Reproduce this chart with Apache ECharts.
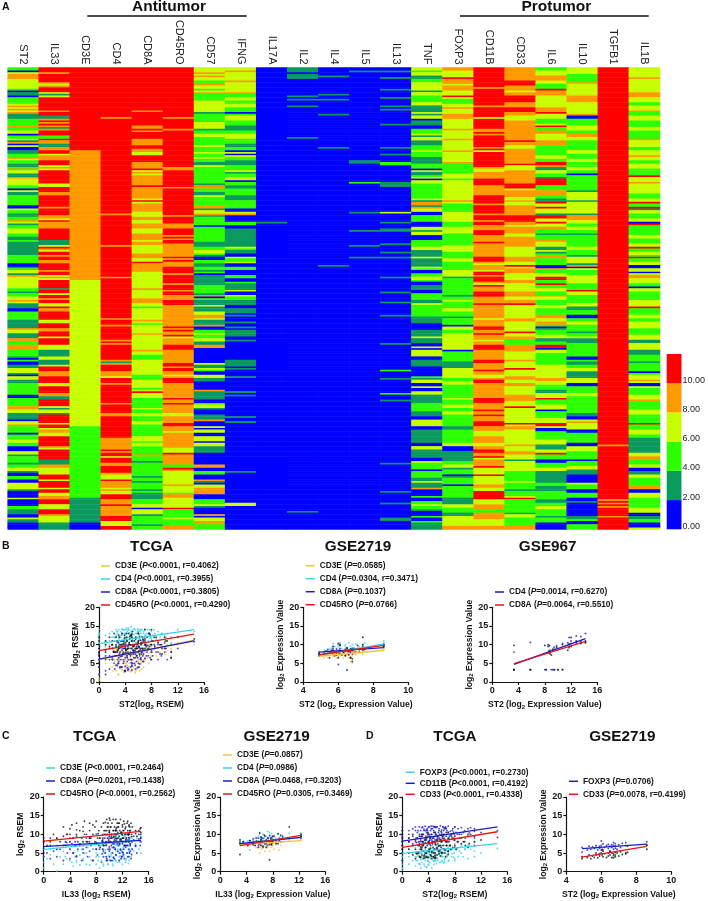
<!DOCTYPE html>
<html><head><meta charset="utf-8">
<style>html,body{margin:0;padding:0;background:#fff}#c{width:708px;height:901px}</style>
<script src="https://cdn.jsdelivr.net/npm/echarts@6/dist/echarts.min.js"></script>
</head><body><div id="c"></div>
<script>
// Heatmap: each column is [startRow, bin, startRow, bin, ...]; bins 0..5 = 0-2, 2-4, ... 10-12
const ROWS = 278;
const ST2=[0,2,2,0,3,3,4,4,7,3,13,2,14,0,15,1,17,0,18,2,22,3,23,4,24,3,25,4,26,3,27,4,28,1,31,2,35,4,36,2,38,3,40,0,41,2,43,3,44,1,45,4,46,0,47,3,48,0,50,1,52,2,54,4,55,3,56,2,58,1,60,4,61,2,62,3,64,1,66,4,67,3,69,3,71,2,73,0,74,3,75,1,77,2,79,2,83,0,85,3,86,2,88,1,90,2,92,4,93,3,94,1,95,2,97,3,100,2,102,1,104,2,105,1,107,1,113,2,118,0,120,1,121,2,122,3,124,1,125,4,126,3,127,3,133,2,135,1,136,2,138,3,140,4,141,3,142,1,145,0,147,2,152,1,157,4,158,3,160,1,163,4,165,2,167,4,170,2,174,1,175,0,176,2,177,0,179,1,181,3,184,1,185,0,186,3,188,1,190,2,197,0,199,2,204,4,206,3,208,1,212,0,213,3,215,4,216,2,220,0,221,2,224,3,226,2,228,0,231,3,233,1,234,2,238,1,239,2,241,3,243,1,244,0,246,2,248,0,250,3,254,1,255,0,259,3,260,0,264,2,266,1,269,0,271,3,272,1,274,0];
const IL33=[0,5,3,4,4,5,9,4,10,3,11,4,12,5,15,3,16,1,17,3,18,5,26,4,27,5,29,1,31,4,32,5,33,4,34,5,35,4,36,1,37,4,38,5,41,2,43,5,44,4,46,1,48,4,50,5,52,3,53,4,56,5,59,3,60,4,61,3,62,5,70,3,72,5,75,4,77,5,84,4,85,5,88,5,89,4,91,3,92,5,93,4,95,4,97,5,104,1,107,3,108,5,109,4,110,3,111,5,113,4,114,5,116,4,118,5,122,4,123,5,125,3,126,4,127,3,128,5,133,1,134,5,136,3,137,5,139,4,140,5,142,3,144,5,145,4,147,5,148,5,152,3,154,5,157,4,159,5,162,3,163,5,167,3,170,1,174,3,175,3,176,1,179,3,180,5,183,4,186,5,190,3,192,5,196,4,198,1,200,5,204,3,205,1,206,3,207,3,208,1,209,5,214,3,215,5,217,3,218,4,220,3,222,5,228,4,229,3,230,5,236,1,238,1,239,4,241,3,243,3,245,5,248,3,249,5,253,3,254,5,256,3,258,4,260,5,263,3,266,5,269,4,270,3,274,1];
const CD3E=[0,5,50,4,128,3,216,2,259,1,274,0];
const CD4=[0,5,30,4,31,5,88,4,89,5,107,4,108,5,126,4,127,5,151,4,152,5,155,4,156,5,164,4,165,5,166,4,167,5,176,4,177,1,178,4,179,5,183,4,186,3,187,5,190,4,191,5,192,5,196,5,202,4,203,5,208,4,210,5,223,4,230,5,231,4,232,5,234,3,235,5,238,4,240,5,244,4,245,3,248,5,249,4,253,3,254,4,255,3,257,5,260,4,263,5,264,4,265,4,270,5,273,3,276,5];
const CD8A=[0,5,26,4,27,5,35,4,37,5,38,4,39,5,43,4,47,5,49,4,51,3,53,5,57,4,61,5,62,3,63,4,64,3,65,4,71,5,72,4,79,3,80,5,81,3,82,4,87,3,90,4,92,3,94,4,97,3,100,4,104,3,105,4,107,3,112,4,115,3,117,5,118,4,123,3,133,4,134,3,139,4,142,3,144,2,145,3,152,4,153,3,154,2,155,3,160,4,161,3,170,4,171,3,173,2,176,3,185,2,188,3,193,2,194,3,195,5,196,3,199,2,205,3,206,2,208,3,210,2,213,3,215,2,222,3,225,2,226,3,228,2,233,4,234,2,237,1,238,2,246,1,247,2,249,1,250,2,254,1,255,2,256,1,260,2,263,3,265,0,266,3,269,1,270,2,275,1,276,2];
const CD45RO=[0,5,30,4,31,5,37,4,38,5,60,4,62,5,72,4,73,5,88,5,89,4,90,5,94,4,97,5,101,4,102,5,103,4,104,5,106,4,114,5,115,4,116,5,117,4,120,5,124,4,125,5,130,4,131,5,134,4,135,5,137,4,140,5,143,4,156,5,157,4,158,5,159,4,161,5,162,3,163,4,167,5,170,4,178,5,180,4,181,5,183,4,185,3,186,4,187,5,190,4,199,5,200,4,202,5,203,4,208,3,210,4,214,5,216,4,219,3,220,4,229,3,232,5,233,4,239,2,241,5,242,4,243,3,251,4,252,3,256,2,257,4,259,3,265,5,266,2,271,3,272,2,276,4];
const CD57=[0,3,3,4,4,3,5,4,6,3,8,2,10,4,11,3,13,2,14,3,15,4,16,2,20,3,27,1,28,2,33,3,37,1,38,2,40,3,42,2,47,3,48,2,51,3,52,2,54,3,55,2,57,1,59,3,60,2,63,2,70,1,71,4,73,2,75,1,77,3,78,2,83,4,85,1,86,3,87,3,88,4,89,1,90,2,95,0,96,2,97,2,105,1,108,2,110,3,112,2,113,1,114,0,116,2,118,1,120,2,122,1,123,2,124,0,125,1,128,1,131,2,136,1,137,4,138,0,139,2,140,1,143,3,144,1,147,3,149,4,151,3,152,1,155,4,156,0,158,2,160,3,161,2,163,3,165,1,167,4,169,0,175,0,178,3,179,1,181,3,182,2,183,0,185,3,187,1,189,0,194,4,195,1,196,1,200,0,202,2,203,3,205,1,206,0,209,1,212,4,213,0,216,3,217,0,218,3,220,0,222,3,223,3,225,0,226,3,228,1,232,0,239,4,241,0,243,2,245,0,248,4,249,1,250,0,251,3,253,4,257,0,260,2,263,3,264,1,265,0,269,4,270,0,271,3,273,4,274,4,275,2];
const IFNG=[0,3,2,4,3,3,8,4,9,3,15,4,16,2,18,3,20,2,22,3,24,2,27,0,28,2,29,3,32,2,35,1,38,2,40,3,43,2,46,1,48,2,50,0,51,3,52,0,53,3,54,2,56,1,59,2,62,3,63,1,64,2,66,3,68,0,69,2,71,1,73,2,77,1,80,2,85,0,87,3,88,4,89,0,93,2,95,0,97,1,102,1,108,3,109,2,110,1,112,0,114,3,115,2,117,3,118,0,120,2,122,0,125,2,127,0,129,2,130,1,134,3,135,0,137,3,138,2,140,1,143,0,145,1,148,0,149,1,150,0,153,1,154,0,156,1,157,0,158,1,162,0,164,1,165,0,176,1,180,0,181,1,182,0,186,1,187,0,195,1,196,0,197,1,198,0,210,1,211,0,213,1,214,0,243,1,244,0,262,3,264,0];
const IL17A=[0,0,93,1,94,0];
const IL2=[0,1,3,0,4,1,7,0,17,1,18,0,19,1,20,0,23,1,24,0,42,1,43,0,267,1,268,0];
const IL4=[0,0,5,1,6,0,16,1,17,0,19,1,20,0,28,1,29,0,48,1,49,0,119,1,120,0];
const IL5=[0,0,2,1,3,0,56,1,58,0,69,2,70,0,87,1,88,0,98,1,99,0,107,1,108,0,114,1,115,0];
const IL13=[0,0,2,1,3,0,6,1,7,0,13,1,14,0,18,1,19,0,23,1,24,0,25,1,26,0,34,1,35,0,48,1,49,0,52,1,53,0,57,2,59,0,69,1,72,0,87,3,88,0,93,1,94,0,97,1,99,0,106,1,107,0,111,1,112,0,114,1,115,0,126,1,127,0,135,1,136,0,141,1,142,0,149,1,150,0,166,1,167,0,182,2,183,0,187,1,188,0,196,2,197,0,200,1,201,0,238,1,239,0,255,1,256,0,262,1,263,0,271,1,273,0];
const TNF=[0,3,2,2,3,3,5,1,7,2,9,3,14,1,15,3,17,2,21,3,23,1,27,3,28,1,29,3,30,3,31,0,32,1,35,0,37,2,40,3,41,1,42,3,44,1,47,2,50,3,51,2,54,1,58,2,61,0,62,3,63,1,65,2,66,3,67,0,68,3,70,2,79,3,80,1,81,4,83,1,84,4,85,3,87,0,89,2,93,0,96,3,98,1,99,3,101,0,104,2,108,3,110,1,114,3,115,1,120,3,121,2,122,0,124,2,126,3,128,2,129,0,131,1,134,0,136,2,140,1,142,3,143,2,145,2,150,1,154,0,158,1,162,3,163,1,166,0,168,3,169,0,170,3,172,3,174,0,176,1,180,0,186,2,187,1,188,3,190,0,192,3,193,0,195,3,197,1,202,2,207,1,210,0,212,3,216,0,218,1,226,0,228,3,230,1,235,0,237,3,238,2,242,0,243,2,245,2,247,1,249,3,250,1,253,4,254,0,258,2,259,0,261,2,263,3,264,2,266,1,267,0,270,2,271,0,273,2,274,1];
const FOXP3=[0,4,2,3,6,5,7,4,10,3,11,4,14,3,17,5,18,3,19,2,22,3,24,4,25,3,28,4,31,3,37,4,38,3,43,4,44,3,50,4,51,3,57,4,58,2,61,2,64,3,67,2,68,3,80,4,81,3,82,2,85,2,87,3,93,2,96,3,100,2,103,2,107,3,111,2,115,3,117,2,122,3,126,1,127,2,137,1,138,2,140,3,141,2,145,3,147,2,150,1,151,2,155,0,156,3,158,2,160,3,170,0,171,2,177,1,178,1,181,3,184,3,187,2,189,3,191,2,194,2,199,3,200,2,203,3,205,2,207,3,209,2,216,1,218,2,226,3,228,0,231,1,237,2,239,3,241,1,242,2,245,0,246,1,247,2,251,0,252,2,259,1,263,3,265,2,268,1,270,3,276,4];
const CD11B=[0,5,12,4,13,5,23,4,24,5,30,3,31,5,37,4,39,5,40,4,41,5,48,4,49,5,50,3,51,5,60,4,61,3,63,4,67,5,71,4,77,5,78,5,82,4,83,5,88,4,89,5,92,4,93,5,95,4,98,5,101,4,105,5,106,4,114,5,117,4,118,3,119,4,122,3,123,5,125,4,126,5,129,4,130,3,131,5,132,4,135,5,138,4,142,5,143,4,145,4,151,3,152,4,156,5,158,4,160,5,161,4,164,3,165,4,167,5,170,4,176,5,178,4,182,5,183,4,185,3,187,4,188,5,190,4,199,5,202,4,206,5,207,4,209,5,210,4,213,5,216,4,219,3,222,4,226,3,228,4,230,5,232,4,234,5,235,3,236,4,238,4,240,5,241,3,245,5,246,3,251,4,253,3,255,5,258,5,260,3,263,4,266,2,268,4,272,3,276,4];
const CD33=[0,4,8,5,11,4,14,3,15,4,17,5,21,4,24,5,27,4,29,3,32,4,44,5,45,4,47,3,49,4,58,5,59,3,61,3,62,4,70,5,73,3,74,4,78,3,80,4,81,3,83,4,89,5,93,4,95,3,96,4,100,3,102,4,108,3,114,4,117,3,119,5,120,3,121,4,124,3,128,4,130,3,135,4,138,3,140,4,142,5,143,3,147,3,151,4,153,3,159,5,160,3,162,4,164,2,167,4,171,3,176,4,177,3,181,5,182,3,186,4,188,3,190,4,192,3,197,4,200,4,201,3,204,5,205,3,214,5,215,3,216,4,218,3,227,4,228,3,231,4,233,3,236,1,237,3,243,2,249,3,250,2,254,1,255,2,258,3,259,5,260,2,266,2,268,1,269,3,271,2,276,4];
const IL6=[0,2,2,3,5,4,8,3,10,2,13,5,14,4,17,3,21,3,24,4,27,5,28,3,31,2,34,3,35,5,36,2,38,4,40,3,44,4,47,2,53,3,55,2,57,5,59,4,60,1,62,3,64,2,66,1,67,5,71,2,74,4,77,2,79,1,81,5,82,3,84,5,85,3,88,1,89,5,91,3,93,5,94,3,96,4,98,2,100,1,101,2,104,4,105,3,108,1,110,3,111,1,112,2,113,4,115,2,119,0,121,4,122,2,124,3,126,5,128,2,130,5,131,2,133,3,135,2,137,4,138,3,140,2,143,3,145,2,149,4,151,3,153,4,155,2,156,0,157,1,158,2,161,3,163,1,165,2,167,5,169,0,170,3,172,2,177,2,179,3,184,3,187,4,189,3,191,2,194,1,196,3,199,5,200,2,203,3,206,0,207,2,211,3,214,5,216,3,217,0,219,2,224,3,227,1,230,3,232,5,233,2,236,0,238,2,241,3,243,1,246,1,250,2,252,1,255,2,260,1,262,2,264,3,266,2,270,1,271,2,274,0];
const IL10=[0,3,4,2,6,2,9,4,10,3,17,4,21,3,28,4,29,0,31,2,35,3,38,2,40,4,42,3,44,2,50,3,52,2,55,3,57,2,60,3,62,2,64,0,65,2,74,1,75,3,80,1,81,3,88,1,89,4,92,3,94,2,96,3,98,2,100,1,101,2,108,3,110,2,113,1,114,3,118,1,119,4,120,0,121,3,122,2,125,3,130,2,134,5,135,3,137,2,140,2,142,3,144,1,146,2,149,0,151,2,153,3,155,2,159,1,160,2,162,3,163,1,166,2,171,2,174,0,176,2,177,1,179,2,181,3,183,1,187,3,190,0,192,2,196,3,198,2,200,2,208,1,210,0,212,3,213,4,214,3,218,0,220,2,226,0,228,3,231,2,236,0,237,2,240,3,242,1,245,0,250,3,251,2,254,0,256,2,259,0,261,1,262,0,266,0,270,1,272,2,273,0,275,2];
const TGFB1=[0,5,227,4,228,5,260,4,261,5,262,4,263,5,264,4,265,5,270,4,271,5];
const IL1B=[0,3,6,4,7,3,15,4,18,3,21,2,23,3,26,4,27,2,29,3,32,2,36,3,38,2,43,4,44,3,48,2,50,3,53,4,54,3,56,2,58,3,61,2,65,5,66,3,69,4,70,3,76,2,79,3,81,5,82,2,84,5,85,1,86,3,88,2,91,3,93,0,94,5,95,2,101,3,103,2,106,3,108,5,109,2,111,3,113,2,114,5,115,2,117,3,119,0,121,3,123,0,124,3,125,4,127,3,130,2,132,0,133,3,135,2,140,3,144,5,145,2,149,3,151,2,153,3,157,2,161,3,164,1,166,3,170,1,173,2,177,1,178,2,183,0,184,2,185,3,188,4,189,3,190,0,192,3,193,2,197,3,200,4,201,2,206,3,209,2,214,5,215,2,218,3,221,2,223,1,226,1,232,3,234,4,236,2,239,3,241,0,243,1,245,3,247,2,252,4,254,0,256,3,259,2,265,3,268,0,270,1,272,2,274,0,277,3];

const colNames=['ST2','IL33','CD3E','CD4','CD8A','CD45RO','CD57','IFNG','IL17A','IL2','IL4','IL5','IL13','TNF','FOXP3','CD11B','CD33','IL6','IL10','TGFB1','IL1B'];
const colRuns=[ST2,IL33,CD3E,CD4,CD8A,CD45RO,CD57,IFNG,IL17A,IL2,IL4,IL5,IL13,TNF,FOXP3,CD11B,CD33,IL6,IL10,TGFB1,IL1B];
const binColors=['#0000ff','#0b9a5e','#2cff00','#c8ff00','#ff9900','#ff0000'];
const scaleSteps=[2,2,2,2,2,2];

// TCGA samples (shared x per panel)
const tcgaST2=[0,0,0,0,0,0,0,0,1,1,1,1,1.6,1.6,1.6,2,2,2,2.3,2.3,2.6,2.6,2.6,2.8,2.8,3,3,3,3.2,3.2,3.3,3.5,3.5,3.5,3.7,3.7,3.8,3.9,4,4,4,4.1,4.2,4.3,4.3,4.4,4.5,4.5,4.6,4.7,4.8,4.8,4.9,5,5,5,5.1,5.2,5.3,5.3,5.4,5.5,5.6,5.7,5.8,5.9,6,6,6.1,6.2,6.3,6.4,6.5,6.6,6.7,6.8,7,7,7.1,7.3,7.5,7.7,7.9,8,8,8.2,8.5,8.7,9,9,9.3,9.6,10,10,10.4,11,11,11,12,14.5,
 2.1,2.4,2.7,2.9,3.1,3.4,3.6,3.8,4,4.2,4.4,4.6,4.8,5,5.2,5.4,5.6,5.8,6,6.2,6.4,6.6,6.8,7,7.2,7.6,8,8.4,2.5,3,3.5,4,4.5,5,5.5,6,6.5,7,3.2,3.7,4.3,4.7,5.1,5.7,6.3,2.2,2.8,3.3,3.9,4.1,4.9,5.3,5.9,6.1,6.7,7.4,7.8,9.5,10.2,0];
const bCD3E=[0.5,2,4,6,7.5,9,11,13,7,9,5,8,6,9,10,4,7,9,6,8.5,3,7,9,5,8,2,6,9,4,7.5,10,3.5,6,8,5,9,7,4,3,6,8,5,9.5,4.5,7,6,3,8,5,10,2.8,6.5,8,3.5,5.5,9,7,4,6,10,5,8,3,7,9,5.5,4,7.5,6,9,8,5,10,7,6,9,8,10,6.5,9,7,10,8,7,9.5,8,10,7,9,10.5,8,10,9,7.5,10,7,9,8.5,10.5,10,
 3,5.5,8,2,6,4,7,2.5,5,8.5,3,6,2.8,5,8,3.5,6.5,4,7.5,3,5.5,8,4,6.5,9,5,7,9,4.5,7,3.2,6,4,7.5,2.5,5.5,3.5,6,8,5,4.5,7.5,3,6.5,5,7,4,8.5,6,3.5,5,7.5,4,6,8,6.5,8,9,8,1];
const bCD4=[9,10,11,12,13,14,10.5,11.5,9.5,11,12.5,10,13,11,9,10,12,13.5,11,12,9.5,12.5,14,10.5,13,9,11.5,14,12,10,13.5,11,12.5,14.2,10,13,11.5,14,9.5,12,13,10.5,14.5,11,13.5,12,9,14,10.5,12.5,13.8,11,14.8,10,12,13.5,11.5,14,9.8,12.8,11,14,13,10.5,12,14.2,9.5,13.5,11.5,14,12,13,10,14,11.5,13,14.2,10.5,12.5,13,11,14,12,13.5,10,12.5,13,11.5,13.5,10.8,12,13,11,12.5,13,10.5,12,11.8,14,13.5,
 10,12,13.5,11,9.5,12.5,14,10.5,13,11.5,14,9.8,12,13,10.8,14.3,11.8,13,10,12.5,14,11,13.5,12,10.5,13,11.5,14,12,10,13,11.5,14.5,12.5,10.2,13.8,11,12.5,9.8,14,11.2,13.2,12,10.5,13.5,11,13.5,12,10.2,14,12.8,11,13.5,12.2,10.8,14,11.8,13,12,12.5];
const bCD8A=[2,4,6,7,8,9,10,5,3,7,2,8.5,6,9,3.5,6,9,10,5,8,7,9.5,4.5,8,6,9,5.5,10.5,7,3.8,6,8.5,4,10,5,7.5,9,3,6.5,9.5,4.2,8,11,5.5,7,9.5,3.5,6,10,7.5,4,9,6,11,3.2,7.5,5,9.5,6.5,8,10,4.5,7.5,5.5,9,6.5,11,8,4,7,9,6,8,10.5,5.5,7.5,9,6.3,10,8,7,9.5,6,8.5,11,7,9,8,10,6,7.5,9,8,10.5,6,6.5,8,10,9,10.8,
 6,3.5,8,5,7.5,4,9,5.5,2.8,7,3.2,10,6,4.2,8.5,5,3.5,7,9.5,4.8,6.5,8.5,5.5,10,7,9,6,10,8,5,7,3,9,4.5,6.5,5,8,10,4,6,3.8,7.5,5,9.5,6.2,8,4.5,6.8,3,10,5.2,8.2,3.8,9.2,7,8.5,6.5,7,9,4];
const bCD45RO=[6,7.5,8,9,10,11,5,12,8,10,6,11,7,9.5,12,6.5,10,11,8,13,7,10,12,8.5,11,6.5,9,12.5,10,8,11,7,9.5,13,8,11,10,12.5,7.5,9,10.5,8.5,12,6.5,11,9,13,7.5,10,11.5,8,10,12.5,6,9,11,13.5,8.5,10,7.5,11,9,12,7,10,8,13,11,9.5,12,8.5,10.5,7.5,12,9,11,14,8.5,10,12,9,13,10,14,8,11,9.5,12,8,10.5,10,7.5,12,9,11,6.5,8,10,12,11.5,
 9,7,11,8.5,12,10,7.5,11,9,13,8,10.5,7,12,9.5,8,11.5,9,13,7.5,10,12,8.5,11,9.5,13,10,12,8,9.5,11,7.8,10,12.8,8.5,10.5,9,11.5,7.2,10.2,8.8,12.2,10,9,11.2,8.2,10.8,9.2,11.8,8.6,12.5,9.6,10.4,8.4,11.4,9.8,12.6,10,11,7];
const dFOXP3=[0.5,1,2,3,4,5,7,8,2,5,4,6,3,5,7,1.5,4,6.5,3,5,2,4.5,6,1,5,2.5,4,6,3.5,7,2,5,3,6,1.2,4.5,5.5,3,2,6,4,5,2.5,6.5,3.5,5,1,4,7,3,5.5,2.8,4,6,3,5,7,2.2,4.5,5.8,3.5,6,4.8,2.5,5.5,7,3,5,6.2,4,5,7,3.5,5.8,6,4.5,6.5,5,3,7,4,6,5,7.5,3,6,4,5.5,7,5,4,6,3.5,7,6,4,5.5,7.8,5,6.2,
 3,4.5,2,5.5,3.5,1.5,5,4,2.8,6,3.8,5,2,4.2,6.5,3,5.2,2.5,4.5,6,3.2,5.5,4,2.8,6,4.8,3.5,6.2,2.2,5,3.6,1.8,4.8,3,5.8,4,2.6,5.4,3.4,1.2,4.4,6.2,3,5,2.4,4,3.2,5.6,2.9,4.6,6,3.6,5,2.7,4.2,5.8,3.9,6,6.8,3];
const dCD11B=[7,8,9,10,11,12,8.5,9.5,9,11,8,10,11.5,7.5,9.5,8,11,12,9,10.5,7.5,10,12,8.5,11,7,9.5,11.8,10,8,11,9,12.2,7.8,10.5,8.5,11.5,9.5,12,7.5,10,12,8.5,11,9,12.2,10,7.8,11.5,9,11,8,12,9.5,10.5,8.5,11.8,10,9,12,7.5,10.5,11.5,9,12.3,8.5,10,11.2,9.5,12,10,11.5,8.5,12,9.5,11,10.5,12.2,9,10.8,9.5,11.5,10,12,8.5,10.5,11.5,9,11.8,10,10.5,9,11.5,10,11.8,9,10.8,11.5,10.5,11,
 9,11,8,10,12,8.5,9.5,11,10,7.5,11.5,9,10.5,8,12,9.5,11,8.5,10,12,9,11.5,8,10.5,9.5,11,12,10,8,9.5,11,10,8.5,12,9,10.5,11.8,8.8,10,11.2,9.2,12.2,10,8.6,11,7.8,9.4,11.4,10.2,8.2,12,9.6,10.8,8.4,11.6,9.8,10.6,11,10.4,10];
const dCD33=[3,5,6,7,8,9,10,11,6,8,5,9,4.5,7,10,3.5,6,8.5,5,9,4,7,9.5,3.8,6,4.5,8,10,5.5,7,3.6,6.5,8.5,5,9,4,7,10.5,5.5,3.8,8,6,9.5,4.5,7,10,3.5,5.5,8,6.5,4,9,6,10.5,5,7.5,3.8,8.5,6,4.5,9.5,5.5,7,10,4.2,6.5,8,5,9,7,6,10,5,8,10.5,7,9,5.5,8,7,10,6.5,8.5,7,9.5,6,8,10,7.5,9,8,7,9.5,6.5,10,8,7,9.5,8.5,9.2,
 5,7,4,6,8,4.5,6.5,3.8,5.5,9,4.2,7.5,5,3.6,6,8.5,4.8,7,5.2,9.5,6,4,8,5.5,7,9,6.5,8,5,6.5,3.9,7.8,5.2,4.4,6.8,8.2,5.8,4.6,7.4,5,6.2,4,7.2,5.6,8.8,4.8,6.6,4.2,7.6,5.4,3.7,6.4,8,5,7,6,9,8,7.5,6];
const tcgaIL33=[0,0,0,0.5,1,1,1.5,2,2,2.5,3,3,3.3,3.6,4,4,4,4.3,4.5,4.8,5,5,5.2,5.5,5.8,6,6,6.2,6.5,6.7,7,7,7.2,7.5,7.8,8,8,8.2,8.4,8.6,8.8,9,9,9.1,9.3,9.4,9.5,9.6,9.7,9.8,9.9,10,10,10.1,10.2,10.3,10.4,10.5,10.6,10.7,10.8,10.9,11,11,11.1,11.2,11.3,11.4,11.5,11.6,11.7,11.8,11.9,12,12,12.1,12.2,12.3,12.4,12.5,12.6,12.7,12.8,12.9,13,13,13,13.1,13.2,13.3,13.4,13.5,13.7,14,14.2,14.5,14.7,14.8,14.8,14.8,
 9.2,9.5,9.8,10,10.2,10.4,10.6,10.8,11,11.2,11.4,11.6,11.8,12,12.2,12.4,12.6,12.8,13,9.1,9.7,10.3,10.9,11.5,12.1,12.7,13.1,8.5,9,9.6,10.1,10.7,11.3,11.9,12.5,13.2,7,7.5,8,8.3,8.9,6,6.5,5,5.5,4.5,3.5,9.4,10.6,11.1,11.7,12.3,12.9,13.4,10,11,12,13,14,14.5];
const cCD3E=[2.5,4,1,3.5,4.5,6,2,0.2,7,4,2,5.5,4,7,3,6,8,2.5,5,4,7,3,5.5,1.8,6,3.5,8,5,2,6.5,4,9,3,6,7.5,2,5,10,4,7,3,6,9,1.5,5,8,3,7,10,2,4.5,6,11,3,8,5,9.5,2,6.5,4,7.5,10,3,5.5,8.5,2.5,6,9,4,7,10,3.5,5.5,8,2,6.5,9.5,4.5,7,3,8,5,10.5,6,3,8.5,5,7,9,4,6,8,5.5,7.5,9,6,8,9.5,5,9.5,
 5,8,2,10,4,6.5,1.5,9,3,7,5,2.5,8.5,6,4,9.5,3.5,7,5.5,2,8,4.5,6.5,3,9,5,7.5,1,6,4,8,3.5,10,5.5,2.5,7,1.8,6,4,3,7,3,5,2.5,4.5,1.5,3.5,5.8,2.8,8.8,4.2,6.8,2.2,9,3.2,7.2,5.2,8.2,7,8.2];
const cCD8A=[4,6,8,5,7,3.5,5.5,9,4,6,7,3,8,5,9,6,3.5,7.5,5,8,4,9.5,6,7,3,8,5,10,6.5,4,9,5.5,7,3,8,6,10,4.5,7,9,2.5,6,8.5,4,10,5,7.5,3,9,6,8,4,10.5,6,3,7,9,5,11,7.5,3.5,6,9.5,4.5,8,10,5.5,7,3,8.5,6,10.5,4,7.5,9,5,11,3.5,8,6.5,9,5,7,10,4,8,6,10.5,7,3.5,8,6,9.5,7,5,8.5,7,10,9,8,
 7,4,9,5.5,8,3,6.5,10,4.5,7.5,9,5,3.5,8,6,10,7,4,8.5,5.5,3,9.5,6,7.5,4.5,8.5,5,6,9,3.5,8,6.5,10.5,4,7,5.5,8,3,6,7.5,4.8,6,9,4.2,7.2,5,7.8,10,3.8,8.8,5.8,7,9.8,4.6,6.6,8.2,5.2,9.2,6.8,8.8];
const cCD45RO=[5,8,9,7,9,8,10,9,6,8,9.5,12,7,10,11.5,8,10,12.5,9,7,10,13,8,11,9,12,7,13.5,10,8,11,13,9,10,12,7.5,13.5,9,11,6.5,12,8,10,13,9,11,7,14,10,12,8.5,11,14.3,9,12,10,13,7.5,11,8,12,9,14,10,11,13,8,12,9.5,11,14,8.5,10,12.5,9,11,13.5,7,10,12,9,13,11,8,10,12.5,9,11,7.5,13,10,12,8.5,11,9.5,10,11.5,9,10.5,11.8,
 11,8,13,9.5,12,10,14,8.5,11,9,13,7.5,10.5,12,9,11.5,8,13.5,10,7,12,9,11,13,8,10,12,9,7.5,11,13.8,9.5,12,10.5,8.5,11,9,12.5,7.8,10.2,8.2,10.8,8,11.2,7.4,9,10,13.2,9.2,11.8,8.8,12.8,10,9.4,10.6,11.4,9.8,12.2,10.2,11];
// GSE2719 samples
const gseST2=[4.9,4.9,5.2,5.3,5.4,5.5,5.6,5.7,5.7,5.8,5.9,5.9,6,6,6.05,6.1,6.1,6.2,6.3,6.4,6.4,6.5,6.5,6.6,6.6,6.7,6.7,6.7,6.8,6.8,6.8,6.9,7,7.1,7.2,7.4,7.4,7.5,8.6,8.6];
const gbCD3E=[7,7.5,6.5,7,6.5,7.5,8,7,6.8,7.5,8,6.5,7,8.2,7.5,7,8,7.2,6.5,7.8,7,7.3,8,6.5,7.5,6.8,5.5,7.8,5,7,8,7.5,7.3,8,8.2,8,7.5,8.5,8.5,9];
const gbCD4=[7.5,8,8.5,7.5,8,8.8,9,10.3,8.5,9.5,8,9,10,9.5,8.5,10.5,8.5,9,8,9.5,10,8.5,9.2,8.5,10.5,8.8,9.5,8,10,9,8.3,9,10.2,8.8,9.5,10,9,10.5,10.5,11];
const gbCD8A=[8,7.5,7.2,8.3,8.7,8,8.5,7.5,9,8.2,7.5,8.8,8,4.7,8.5,7.5,9,8.2,7.8,8.8,7.2,8.3,9.2,8,7.5,8.8,6.5,8.2,9,7.5,8.5,8,8.8,9,8,9.5,8.5,9,9.5,10];
const gbCD45RO=[7.5,7,7.8,7.2,8.2,6.5,7.8,8.5,9.5,7,8.2,7.2,10.3,6.5,7.5,9.8,10,7.3,8,7,8.3,3.2,9,8.3,7.3,6.5,8.8,7.8,6.2,8.5,5.5,9,8,9.8,8.7,12,10,8.8,9.5,10];
const gdFOXP3=[5.2,6.5,5.8,6.8,6,6.7,6.2,7,6.5,5.8,6.8,6.3,7,8.2,6,7.5,5.8,6.5,7,6.2,7.3,6.8,5.5,7.2,6.5,7.8,6,7,6.3,7.5,6.8,6,7.2,6.5,7.6,7.8,7,6.8,7.2,8];
const gdCD33=[3.5,4,3.8,4.5,3.5,4.2,3.8,4.5,5,3.7,4.8,4.2,5.8,5,4.5,5.5,4,4.8,3.8,5,4.2,4.5,5.5,3.8,5,4.3,4.8,3.7,5.2,4,4.5,5,4.2,5.3,4.6,5,4.8,5.2,6,7];
const gseIL33=[3,3,3.5,4.2,4.5,5,5,5.3,5.5,5.8,5.8,6,6,6.2,6.2,6.3,6.5,6.5,6.7,6.8,7,7,7.2,7.3,7.5,7.5,7.7,7.8,7.8,8,8,8.2,8.5,8.8,9,9.2,9.5,10.5,12.3,12.3];
const gcCD3E=[7,8,7.5,7.8,7,7.3,8,7,6.5,7.5,8.2,6.5,5,7.8,7,6,7.5,8,6.8,5.5,7,8,6.5,7.5,8,5.5,7.2,6.5,8.5,7,8,6,7.5,8,5.8,7,8,8.5,8.5,8.8];
const gcCD4=[8,8.6,7.5,8.2,5.8,8.5,7.8,9,8.3,9.5,8,9,10.5,8.3,9.2,7.8,10,8.5,9,7.5,9.5,8.2,10.8,8.5,9.2,10.5,8,9.5,10.2,8.2,9,7.8,9,10,8.5,9.5,8.8,10.3,10,10.3];
const gcCD8A=[7.8,8.5,8,7.5,8.3,7.2,8.8,7.8,8.2,7,9,8,7.5,9.3,8.5,7.8,6.5,9,8,9.5,7.5,8.5,7,9,8,9.7,8.5,7.5,9,8.5,7.8,9.5,8.2,7.5,9,8,9.5,9,9,9.5];
const gcCD45RO=[4.6,7.5,8,7,8.3,7.5,8,7,9,8,6.5,10.3,7.5,8.5,7,9,8,6.8,9.8,7.5,8.3,6.5,9,8,7.3,3.2,9,8,7.2,9.5,8,8.5,7.5,10.2,8.2,9.8,9,12,9.5,10];
// GSE967 samples
const g967ST2=[3.3,3.3,3.3,5.8,5.8,8,8.2,8.5,8.6,8.7,8.8,9,9.2,9.4,9.5,9.8,10,10.7,10.7,11.5,11.7,11.7,12,12,12.8,12.8,13.5,13.5,14.2,14.2];
const g967CD4=[8,3.3,3.3,10.6,3.3,3.3,3.3,9.5,8.3,8,8.5,3.3,3.3,9.3,3.3,9.7,3.3,10.3,3.3,10.5,11.9,10.2,11,10.3,12.3,10.8,12.2,10.9,13,10.7];
const g967CD8A=[9.8,3.3,3.3,3.3,3.3,9.8,3.3,10,7.8,9.7,7.5,7.2,8.8,3.3,8.8,9.3,3.3,3.3,10,8.5,9.2,10,11.9,9.5,10.5,11,10.5,10.3,10.5,11];

const YELLOW='#f4c23c',CYAN='#38d3ea',BLUE='#1c1cc8',RED='#e3141e',BLACK='#111111';
const FONT='"Liberation Sans",Arial,sans-serif';
const INK='#151515';

const series=[],grids=[],xAxes=[],yAxes=[],legends=[];
// main heatmap
const cells=[];
colRuns.forEach((runs,c)=>{
  for(let i=0;i<runs.length;i+=2){
    const end=i+2<runs.length?runs[i+2]:ROWS;
    for(let r=runs[i];r<end;r++)cells.push([c,r,2*runs[i+1]+1]);
  }
});
grids.push({left:7.7,top:67.5,width:652.3,height:462});
xAxes.push({type:'category',position:'top',data:colNames,gridIndex:0,axisLine:{show:false},axisTick:{show:false},splitLine:{show:false},
  axisLabel:{rotate:90,interval:0,margin:3,fontFamily:FONT,fontSize:11,color:'#222'}});
yAxes.push({type:'category',inverse:true,gridIndex:0,show:false,data:Array.from({length:ROWS},(_,i)=>i)});
series.push({type:'heatmap',xAxisIndex:0,yAxisIndex:0,data:cells,progressive:0,silent:true,itemStyle:{borderWidth:0}});
// colour scale
grids.push({left:666.7,top:354,width:17.3,height:175.3});
xAxes.push({type:'category',gridIndex:1,data:['s'],show:false});
yAxes.push({type:'value',gridIndex:1,position:'right',min:0,max:12,interval:2,axisLine:{show:false},axisTick:{show:false},splitLine:{show:false},
  axisLabel:{margin:1,fontFamily:FONT,fontSize:9,color:'#222',verticalAlign:'bottom',lineHeight:6,showMaxLabel:false,formatter:v=>v.toFixed(2)}});
scaleSteps.forEach((v,i)=>series.push({type:'bar',stack:'scale',xAxisIndex:1,yAxisIndex:1,barWidth:'100%',data:[v],silent:true,itemStyle:{color:binColors[i]}}));

const titles=[];
function T(text,x,y,size,align){titles.push({text,left:x,top:y-size/2-0.5,padding:0,textAlign:align||'center',textStyle:{fontFamily:FONT,fontWeight:'bold',fontSize:size,lineHeight:size,color:'#111'}});}
T('Antitumor',169,7,15.5);T('Protumor',556.3,7,15.5);
T('A',2,8,10.5,'left');T('B',2,547,10.5,'left');T('C',2,737,10.5,'left');T('D',366,737,10.5,'left');

function lbl(s){const m=s.split('log2');return m.length>1?`{t|${m[0]}log}{s|2}{t|${m[1]}}`:`{t|${s}}`;}
const nameStyle={fontFamily:FONT,fontWeight:'bold',fontSize:8.6,color:INK,rich:{t:{fontFamily:FONT,fontWeight:'bold',fontSize:8.6,color:INK},s:{fontFamily:FONT,fontWeight:'bold',fontSize:6,color:INK,verticalAlign:'bottom',padding:[4,0,0,0]}}};

function panel(p){
  const g=grids.length;
  grids.push({left:p.left,top:p.top,width:105,height:74.7});
  const axis={lineStyle:{color:INK,width:1.2}};
  const tick={length:3,lineStyle:{color:INK,width:1.2}};
  const label={fontFamily:FONT,fontWeight:'bold',fontSize:9,color:INK,margin:4};
  xAxes.push({type:'value',gridIndex:g,min:p.xr[0],max:p.xr[1],interval:p.xr[2],axisLine:{onZero:false,...axis},axisTick:tick,axisLabel:label,splitLine:{show:false},
    name:lbl(p.xName),nameLocation:'middle',nameGap:18,nameTextStyle:nameStyle});
  yAxes.push({type:'value',gridIndex:g,min:0,max:20,interval:5,axisLine:{show:true,onZero:false,...axis},axisTick:tick,axisLabel:label,splitLine:{show:false},
    name:lbl(p.yName),nameLocation:'middle',nameGap:p.yGap||18,nameTextStyle:nameStyle});
  p.items.forEach(it=>{
    series.push({type:'scatter',name:'pts '+it.name,xAxisIndex:g,yAxisIndex:g,symbolSize:1.9,silent:true,z:2,
      data:p.x.map((v,i)=>[v,it.y[i]]),itemStyle:{color:it.dot}});
  });
  p.items.forEach(it=>{
    series.push({type:'line',name:it.name,xAxisIndex:g,yAxisIndex:g,showSymbol:false,symbol:'none',silent:true,z:3,
      data:it.line,lineStyle:{color:it.color,width:1.3},itemStyle:{color:it.color}});
  });
  legends.push({show:true,selectedMode:false,orient:'vertical',left:p.lx-1,top:p.ly-5,padding:0,itemGap:p.lgap-10,itemWidth:9,itemHeight:1.5,icon:'rect',
    data:p.items.map(it=>it.name),
    formatter:n=>{const k=n.indexOf('(P');return `{b|${n.slice(0,k+1)}}{i|P}{b|${n.slice(k+2)}}`;},
    textStyle:{color:INK,lineHeight:10,rich:{b:{fontFamily:FONT,fontWeight:'bold',fontSize:8.3,color:INK,lineHeight:10},i:{fontFamily:FONT,fontWeight:'bold',fontStyle:'italic',fontSize:8.3,color:INK,lineHeight:10}}}});
  T(p.title,p.tx,p.ty,15.3);
}
const E='log2 Expression Value';
panel({title:'TCGA',tx:151.7,ty:547.5,left:99,top:607.3,xr:[0,16,4],xName:'ST2(log2 RSEM)',yName:'log2 RSEM',x:tcgaST2,lx:102,ly:566,lgap:13,items:[
 {name:'CD3E (P<0.0001, r=0.4062)',color:YELLOW,dot:YELLOW,y:bCD3E,line:[[0,6],[14.5,11.2]]},
 {name:'CD4 (P<0.0001, r=0.3955)',color:CYAN,dot:CYAN,y:bCD4,line:[[0,10.3],[14.5,14]]},
 {name:'CD8A (P<0.0001, r=0.3805)',color:BLUE,dot:BLUE,y:bCD8A,line:[[0,6.1],[14.5,11]]},
 {name:'CD45RO (P<0.0001, r=0.4290)',color:RED,dot:BLACK,y:bCD45RO,line:[[0,8.4],[14.5,12.8]]}]});
panel({title:'GSE2719',tx:358,ty:547.5,left:303.3,top:607.3,xr:[4,10,2],xName:'ST2 (log2 Expression Value)',yName:E,x:gseST2,lx:306.7,ly:565.7,lgap:13,items:[
 {name:'CD3E (P=0.0585)',color:YELLOW,dot:YELLOW,y:gbCD3E,line:[[4.9,6.9],[8.6,8.5]]},
 {name:'CD4 (P=0.0304, r=0.3471)',color:CYAN,dot:CYAN,y:gbCD4,line:[[4.9,7.1],[8.6,10.2]]},
 {name:'CD8A (P=0.1037)',color:BLUE,dot:BLUE,y:gbCD8A,line:[[4.9,8],[8.6,9.2]]},
 {name:'CD45RO (P=0.0766)',color:RED,dot:BLACK,y:gbCD45RO,line:[[4.9,7.3],[8.6,9.8]]}]});
panel({title:'GSE967',tx:547.7,ty:547.5,left:492.3,top:607.3,xr:[0,16,4],xName:'ST2 (log2 Expression Value)',yName:E,x:g967ST2,lx:496,ly:592,lgap:13,items:[
 {name:'CD4 (P=0.0014, r=0.6270)',color:BLUE,dot:BLUE,y:g967CD4,line:[[3.3,4.7],[14.2,11.6]]},
 {name:'CD8A (P=0.0064, r=0.5510)',color:RED,dot:BLACK,y:g967CD8A,line:[[3.3,4.9],[14.2,10.9]]}]});
panel({title:'TCGA',tx:94.7,ty:737,left:43.7,top:797,xr:[0,16,4],xName:'IL33 (log2 RSEM)',yName:'log2 RSEM',x:tcgaIL33,lx:47,ly:768,lgap:13,items:[
 {name:'CD3E (P<0.0001, r=0.2464)',color:CYAN,dot:CYAN,y:cCD3E,line:[[0,6],[14.8,8.5]]},
 {name:'CD8A (P=0.0201, r=0.1438)',color:BLUE,dot:BLUE,y:cCD8A,line:[[0,6.7],[14.8,8.4]]},
 {name:'CD45RO (P<0.0001, r=0.2562)',color:RED,dot:BLACK,y:cCD45RO,line:[[0,8.2],[14.8,10.8]]}]});
panel({title:'GSE2719',tx:276.7,ty:737,left:220.3,top:797,xr:[0,16,4],xName:'IL33 (log2 Expression Value)',yName:E,x:gseIL33,lx:224,ly:755,lgap:13,items:[
 {name:'CD3E (P=0.0857)',color:YELLOW,dot:YELLOW,y:gcCD3E,line:[[3,7.3],[12.3,8.3]]},
 {name:'CD4 (P=0.0986)',color:CYAN,dot:CYAN,y:gcCD4,line:[[3,7.6],[12.3,9.2]]},
 {name:'CD8A (P=0.0468, r=0.3203)',color:BLUE,dot:BLUE,y:gcCD8A,line:[[3,7.5],[12.3,9.2]]},
 {name:'CD45RO (P=0.0305, r=0.3469)',color:RED,dot:BLACK,y:gcCD45RO,line:[[3,7],[12.3,9.7]]}]});
panel({title:'TCGA',tx:455,ty:737,left:402.3,top:797,xr:[0,16,4],xName:'ST2(log2 RSEM)',yName:'log2 RSEM',x:tcgaST2,lx:406.7,ly:772.3,lgap:11,items:[
 {name:'FOXP3 (P<0.0001, r=0.2730)',color:CYAN,dot:CYAN,y:dFOXP3,line:[[0,4.9],[14.5,7.5]]},
 {name:'CD11B (P<0.0001, r=0.4192)',color:BLUE,dot:BLUE,y:dCD11B,line:[[0,8.2],[14.5,12]]},
 {name:'CD33 (P<0.0001, r=0.4338)',color:RED,dot:BLACK,y:dCD33,line:[[0,6.5],[14.5,10.7]]}]});
panel({title:'GSE2719',tx:622.3,ty:737,left:566.3,top:797,xr:[4,10,2],xName:'ST2 (log2 Expression Value)',yName:E,x:gseST2,lx:570,ly:781.3,lgap:13,items:[
 {name:'FOXP3 (P=0.0706)',color:BLUE,dot:BLUE,y:gdFOXP3,line:[[4.9,6.2],[8.6,7.4]]},
 {name:'CD33 (P=0.0078, r=0.4199)',color:RED,dot:BLACK,y:gdCD33,line:[[4.9,3.9],[8.6,6.8]]}]});

const chart=echarts.init(document.getElementById('c'),null,{renderer:'canvas'});
chart.setOption({animation:false,backgroundColor:'#fff',title:titles,grid:grids,xAxis:xAxes,yAxis:yAxes,legend:legends,series,
  tooltip:{show:false},
  visualMap:{show:false,type:'piecewise',seriesIndex:0,dimension:2,pieces:binColors.map((c,i)=>({min:2*i,max:2*i+2,color:c}))},
  graphic:[
   {type:'line',shape:{x1:87.3,y1:16,x2:246.7,y2:16},style:{stroke:'#111',lineWidth:1.6}},
   {type:'line',shape:{x1:460,y1:16,x2:648.7,y2:16},style:{stroke:'#111',lineWidth:1.6}}]});
</script></body></html>
